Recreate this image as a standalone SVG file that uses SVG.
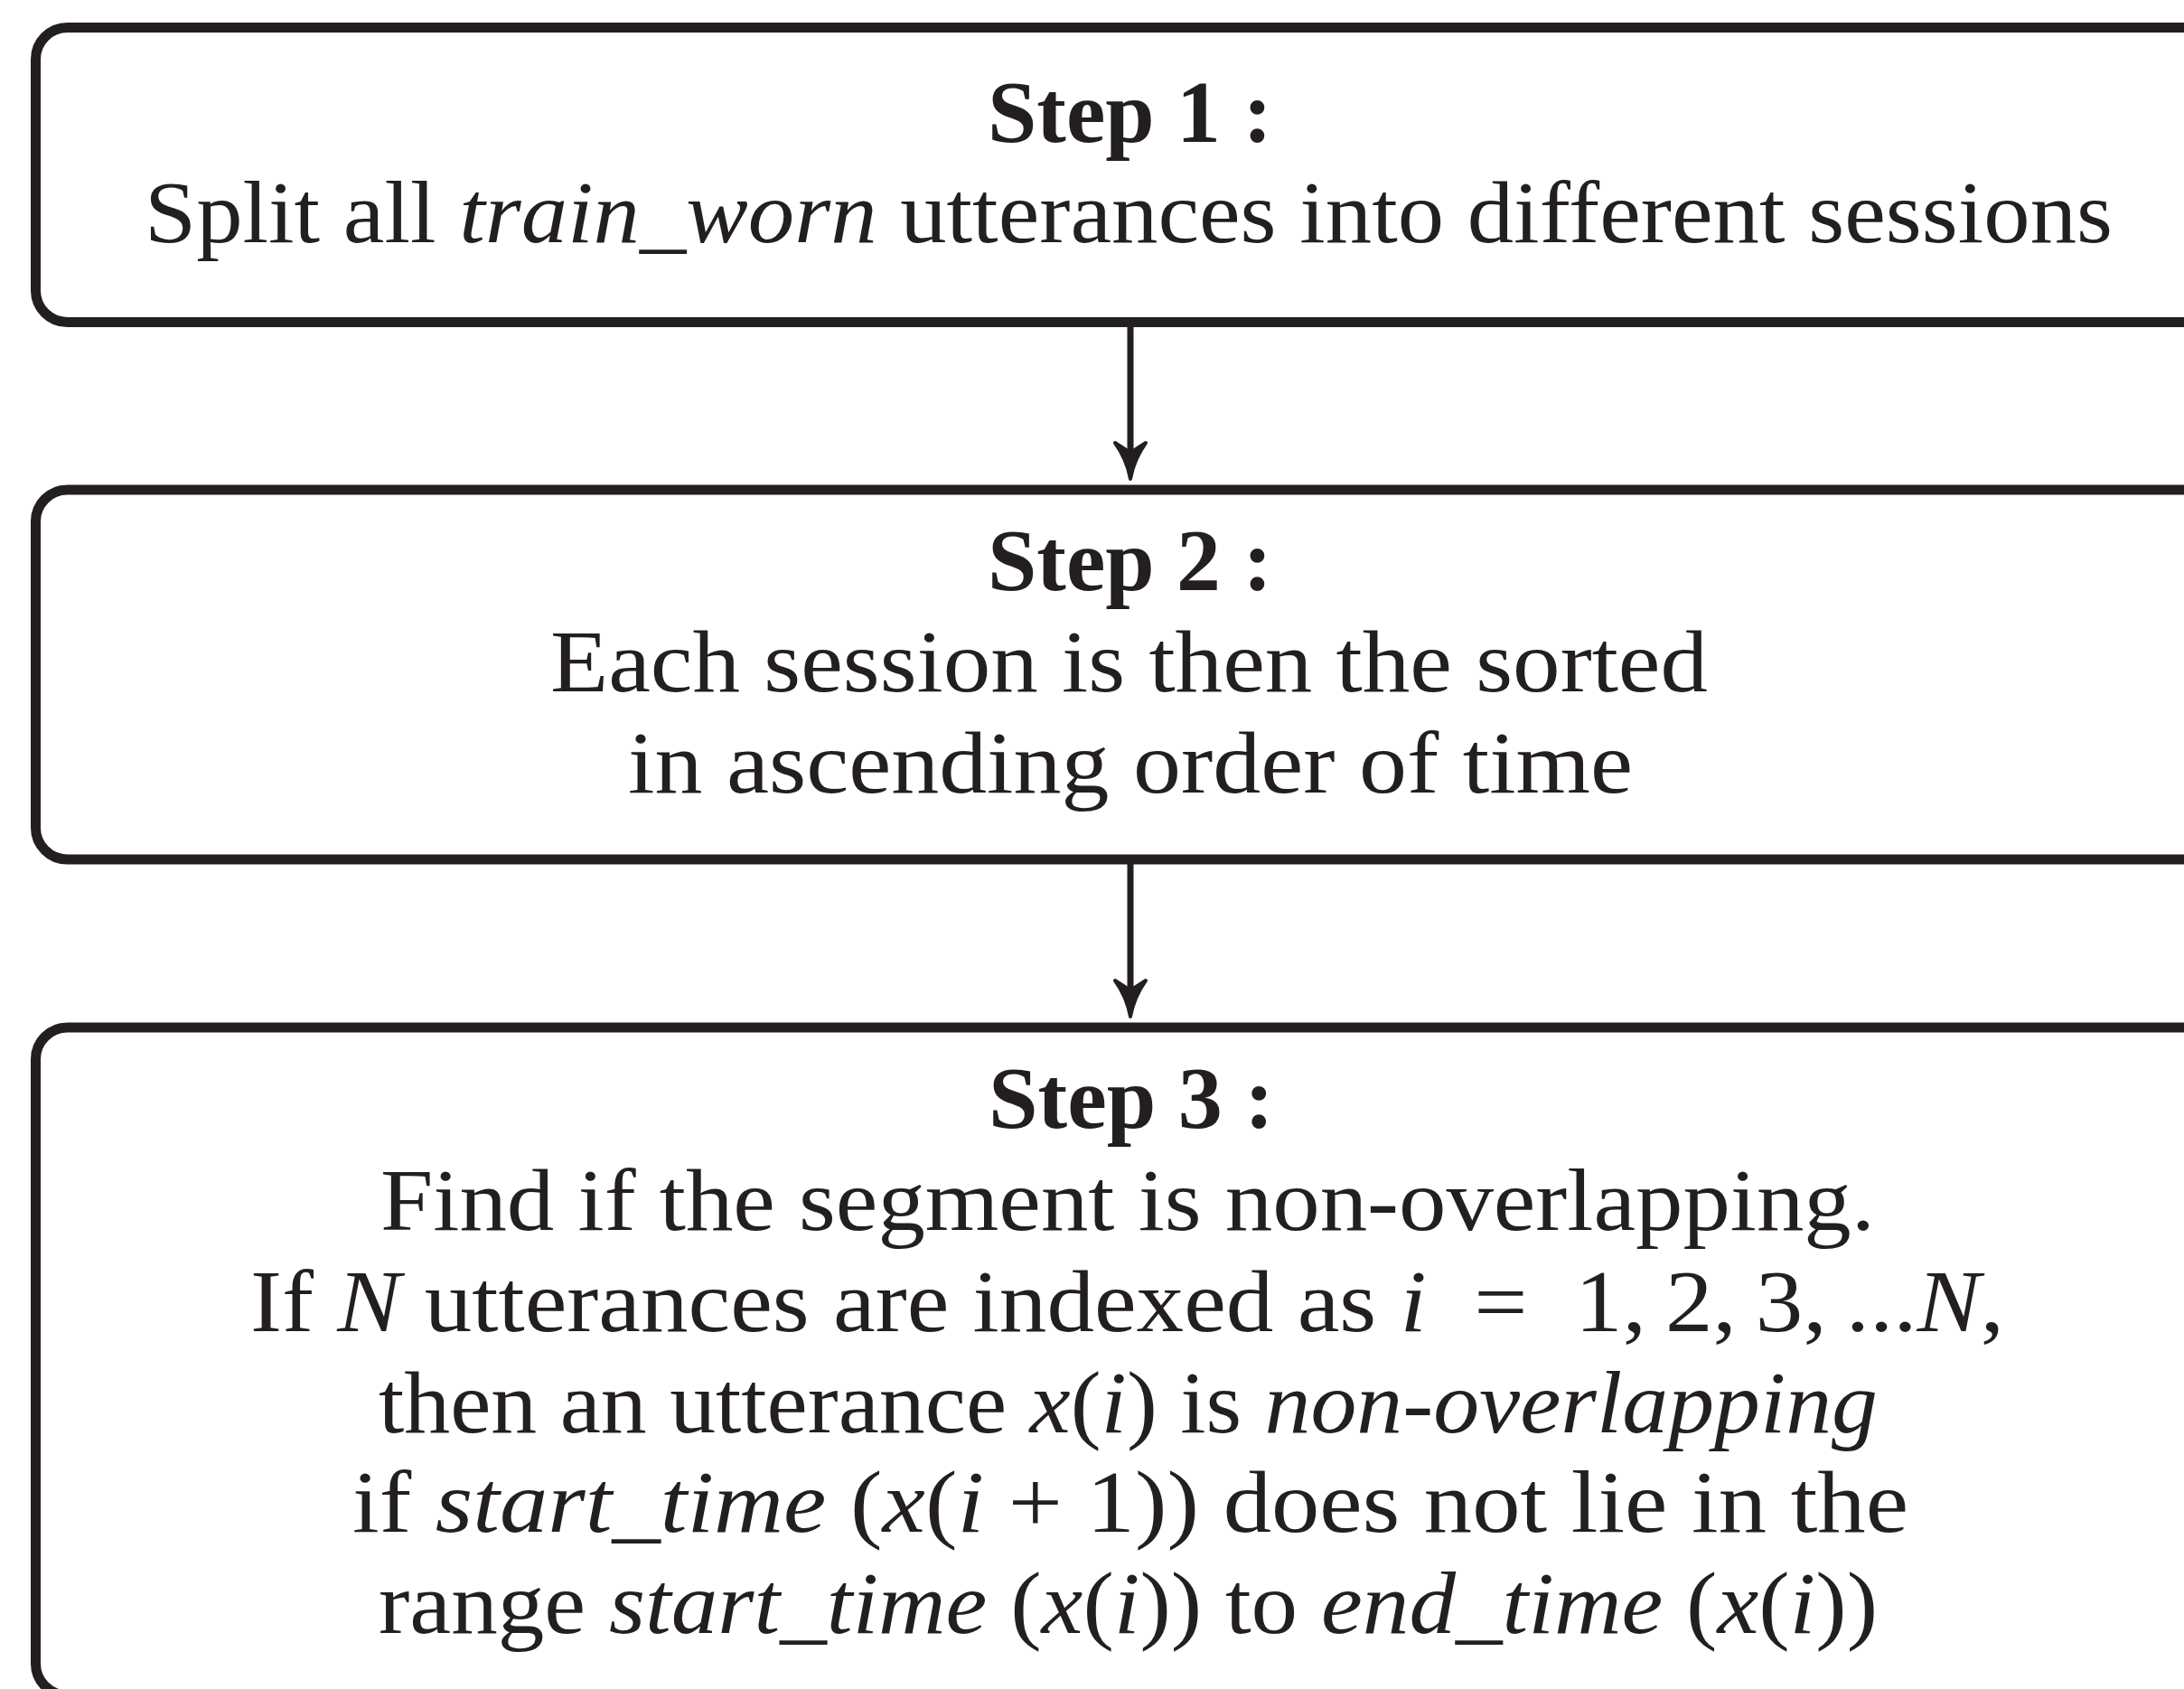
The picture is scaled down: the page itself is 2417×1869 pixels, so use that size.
<svg xmlns="http://www.w3.org/2000/svg" width="2417" height="1869" viewBox="0 0 2417 1869">
  <style>
    .box { fill: #ffffff; stroke: #231f20; stroke-width: 11; }
    .txt { font-family: "Liberation Serif", "Times New Roman", serif; font-size: 98px; fill: #231f20; }
    .head { font-weight: bold; }
    .it { font-style: italic; }
    .link { stroke: #231f20; stroke-width: 7; fill: none; }
  </style>
  <defs>
    <marker id="arrow" viewBox="0 0 50 40" markerUnits="userSpaceOnUse" markerWidth="50" markerHeight="40" refX="17" refY="20" orient="auto" overflow="visible">
      <path d="M44,20 Q22,16 4,3 L15,20 L4,37 Q22,24 44,20 Z" fill="#231f20" stroke="#231f20" stroke-width="4" stroke-linejoin="round"/>
    </marker>
  </defs>
  <rect width="2417" height="1869" fill="#ffffff"/>

  <g id="step1">
    <rect class="box" x="39.5" y="30.5" width="2440" height="326" rx="35"/>
    <text class="txt head" x="1093" y="157" textLength="315" lengthAdjust="spacingAndGlyphs">Step 1 :</text>
    <text class="txt" x="160" y="268" textLength="2178" lengthAdjust="spacingAndGlyphs">Split all <tspan class="it">train_worn</tspan> utterances into different sessions</text>
  </g>

  <g id="step2">
    <rect class="box" x="39.5" y="542" width="2440" height="409" rx="35"/>
    <text class="txt head" x="1093" y="653" textLength="315" lengthAdjust="spacingAndGlyphs">Step 2 :</text>
    <text class="txt" x="609" y="765" textLength="1281" lengthAdjust="spacingAndGlyphs">Each session is then the sorted</text>
    <text class="txt" x="695" y="877" textLength="1112" lengthAdjust="spacingAndGlyphs">in ascending order of time</text>
  </g>

  <g id="step3">
    <rect class="box" x="39.5" y="1137" width="2440" height="739" rx="35"/>
    <text class="txt head" x="1094" y="1248" textLength="316" lengthAdjust="spacingAndGlyphs">Step 3 :</text>
    <text class="txt" x="421" y="1361" textLength="1654" lengthAdjust="spacingAndGlyphs">Find if the segment is non-overlapping.</text>
    <text class="txt" x="277" y="1473" textLength="1941" lengthAdjust="spacingAndGlyphs">If <tspan class="it">N</tspan> utterances are indexed as <tspan class="it">i</tspan>&#x2002;=&#x2002;1,&#x2009;2,&#x2009;3,&#x2009;...<tspan class="it">N</tspan>,</text>
    <text class="txt" x="419" y="1585" textLength="1659" lengthAdjust="spacingAndGlyphs">then an utterance <tspan class="it">x</tspan>(<tspan class="it">i</tspan>) is <tspan class="it">non-overlapping</tspan></text>
    <text class="txt" x="390" y="1695" textLength="1722" lengthAdjust="spacingAndGlyphs">if <tspan class="it">start_time</tspan> (<tspan class="it">x</tspan>(<tspan class="it">i</tspan> + 1)) does not lie in the</text>
    <text class="txt" x="419" y="1807" textLength="1659" lengthAdjust="spacingAndGlyphs">range <tspan class="it">start_time</tspan> (<tspan class="it">x</tspan>(<tspan class="it">i</tspan>)) to <tspan class="it">end_time</tspan> (<tspan class="it">x</tspan>(<tspan class="it">i</tspan>))</text>
  </g>

  <g id="connectors">
    <line class="link" x1="1251" y1="362" x2="1251" y2="503" marker-end="url(#arrow)"/>
    <line class="link" x1="1251" y1="956" x2="1251" y2="1098" marker-end="url(#arrow)"/>
  </g>
</svg>
